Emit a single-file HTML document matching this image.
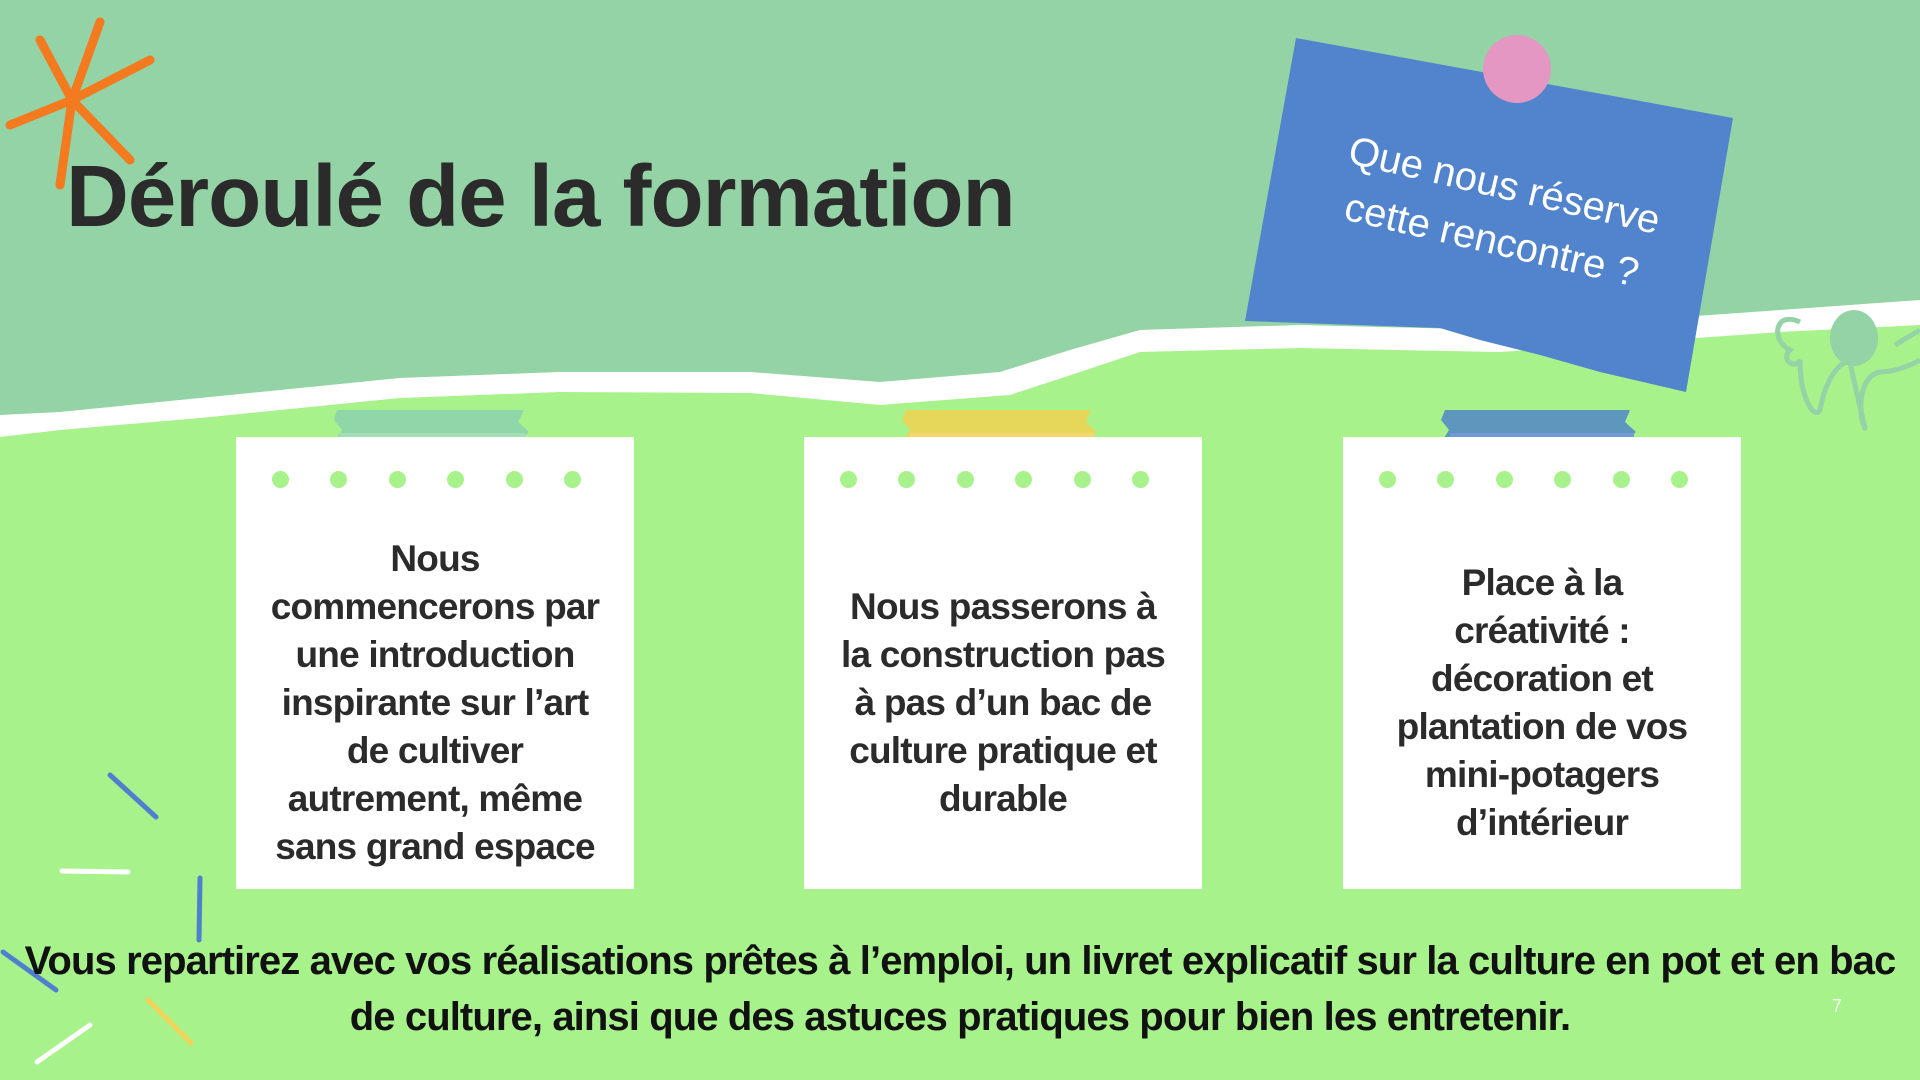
<!DOCTYPE html>
<html><head><meta charset="utf-8"><style>
html,body{margin:0;padding:0;}
body{width:1920px;height:1080px;overflow:hidden;position:relative;background:#a8f28b;font-family:"Liberation Sans",sans-serif;}
svg.bg{position:absolute;left:0;top:0;}
.title{position:absolute;left:66px;top:147px;font-size:87px;font-weight:bold;color:#2b2b2b;letter-spacing:-1px;white-space:nowrap;}
.card{position:absolute;top:437px;width:398px;height:452px;background:#fff;}
.dots{position:absolute;top:34px;left:36px;width:326px;height:17px;}
.dots span{position:absolute;top:0;width:17px;height:17px;border-radius:50%;background:#a8f28b;}
.ct{position:absolute;left:-10px;right:-10px;text-align:center;font-weight:bold;font-size:37px;line-height:48px;color:#2b2b2b;letter-spacing:-0.8px;}
.bottom{position:absolute;left:0;width:1920px;top:933px;text-align:center;font-weight:bold;font-size:40px;line-height:56px;color:#111;letter-spacing:-0.9px;white-space:nowrap;}
.notetext{position:absolute;left:1278px;top:157px;width:440px;text-align:center;color:#fff;font-size:40px;line-height:56px;transform:rotate(13deg);white-space:nowrap;}
</style></head><body>
<svg class="bg" width="1920" height="1080" viewBox="0 0 1920 1080">
<rect width="1920" height="1080" fill="#a8f28b"/>
<path d="M0 0 H1920 V300 L1780 310 L1500 330 L1300 325 L1140 330 L1070 350 L1000 372 L880 382 L750 372 L560 372 L400 378 L200 398 L60 412 L0 415 Z" fill="#93d3a6"/>
<path d="M0 415 L60 412 L200 398 L400 378 L560 372 L750 372 L880 382 L1000 372 L1070 350 L1140 330 L1300 325 L1500 330 L1780 310 L1920 300 V325 L1780 332 L1500 352 L1300 348 L1140 352 L1080 372 L1010 395 L880 405 L750 393 L560 392 L400 398 L200 418 L60 430 L0 437 Z" fill="#ffffff"/>
<g stroke="#f47a1f" stroke-width="9" stroke-linecap="round" fill="none">
<path d="M100 22 L72 100 M40 40 L72 100 M150 60 L72 100 M10 125 L72 100 M130 160 L72 100 M60 185 L72 100"/>
</g>
<g stroke="#93d3a6" stroke-width="5" fill="none">
<path d="M1800 322 C1775 310 1770 340 1790 350 C1780 360 1795 370 1800 360 C1800 400 1815 420 1820 410 C1825 380 1840 360 1850 362 C1860 410 1870 445 1862 420 C1858 395 1865 375 1880 372 C1900 372 1920 360 1920 360"/>
<path d="M1920 330 L1895 345"/>
</g>
<ellipse cx="1854" cy="338" rx="24" ry="28" fill="#93d3a6"/>
<g stroke-width="5" stroke-linecap="round" fill="none">
<line x1="110" y1="775" x2="156" y2="817" stroke="#4f7fcf"/>
<line x1="62" y1="871" x2="128" y2="872" stroke="#ffffff"/>
<line x1="200" y1="878" x2="199" y2="940" stroke="#4f7fcf"/>
<line x1="3" y1="952" x2="56" y2="990" stroke="#4f7fcf"/>
<line x1="148" y1="1000" x2="191" y2="1043" stroke="#f0d45a"/>
<line x1="37" y1="1062" x2="90" y2="1025" stroke="#ffffff"/>
</g>
<polygon points="1296,38 1733,118 1686,392 1600,372 1540,355 1480,340 1440,328 1245,321" fill="#5184cc"/>
<circle cx="1517" cy="69" r="34" fill="#e397c2"/>
<g>
<path d="M337 410 H524 L518 422 L529 432 L520 440 L528 450 L523 456 H350 L343 446 L337 438 L342 430 L334 420 Z" fill="#8fd6a8"/>
<rect x="340" y="433" width="185" height="23" fill="#a2dfb5"/>
<path d="M906 410 H1091 L1086 422 L1097 432 L1088 440 L1096 450 L1091 456 H918 L911 446 L905 438 L910 430 L902 420 Z" fill="#e6d75a"/>
<rect x="910" y="433" width="184" height="23" fill="#f3d870"/>
<path d="M1445 410 H1630 L1625 422 L1636 432 L1627 440 L1635 450 L1630 456 H1457 L1450 446 L1444 438 L1449 430 L1441 420 Z" fill="#5d97be"/>
<rect x="1450" y="433" width="184" height="23" fill="#6f9bd8"/>
</g>
</svg>
<div class="title">Déroulé de la formation</div>
<div class="notetext">Que nous réserve<br>cette rencontre ?</div>

<div class="card" style="left:236px;">
<div class="dots"><span style="left:0"></span><span style="left:58px"></span><span style="left:117px"></span><span style="left:175px"></span><span style="left:234px"></span><span style="left:292px"></span></div>
<div class="ct" style="top:98px;">Nous<br>commencerons par<br>une introduction<br>inspirante sur l’art<br>de cultiver<br>autrement, même<br>sans grand espace</div>
</div>
<div class="card" style="left:804px;">
<div class="dots"><span style="left:0"></span><span style="left:58px"></span><span style="left:117px"></span><span style="left:175px"></span><span style="left:234px"></span><span style="left:292px"></span></div>
<div class="ct" style="top:146px;">Nous passerons à<br>la construction pas<br>à pas d’un bac de<br>culture pratique et<br>durable</div>
</div>
<div class="card" style="left:1343px;">
<div class="dots"><span style="left:0"></span><span style="left:58px"></span><span style="left:117px"></span><span style="left:175px"></span><span style="left:234px"></span><span style="left:292px"></span></div>
<div class="ct" style="top:122px;">Place à la<br>créativité :<br>décoration et<br>plantation de vos<br>mini-potagers<br>d’intérieur</div>
</div>
<div class="bottom">Vous repartirez avec vos réalisations prêtes à l’emploi, un livret explicatif sur la culture en pot et en bac<br>de culture, ainsi que des astuces pratiques pour bien les entretenir.</div>
<div style="position:absolute;left:1832px;top:996px;font-size:18px;color:#fff;">7</div>
</body></html>
